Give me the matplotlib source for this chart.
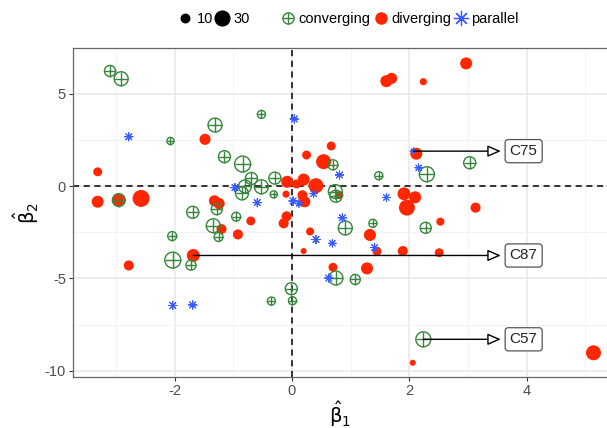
# Se importan las librerias
import numpy as np
import matplotlib
matplotlib.use('Agg')
import matplotlib.pyplot as plt
from matplotlib.lines import Line2D
from matplotlib.legend_handler import HandlerTuple

plt.rcParams['font.family'] = ['Liberation Sans', 'DejaVu Sans']
plt.rcParams['mathtext.fontset'] = 'dejavusans'
plt.rcParams['axes.unicode_minus'] = False

# Puntos "converging"
conv_x = [-3.10, -2.91, -2.07, -1.31, -0.52, -1.15, -0.84, -0.69, -0.29, -0.80,
          -0.52, -0.85, -0.31, -2.95, -1.69, -1.28, -0.95, -1.34, -1.25, -2.04,
          -2.03, -1.72, -0.01, -0.35, 0.01, 0.70, 1.48, 2.30, 3.03, 0.74,
          0.75, 0.91, 1.38, 2.28, 0.75, 1.08, 2.24]
conv_y = [6.23, 5.81, 2.44, 3.30, 3.88, 1.59, 1.19, 0.41, 0.43, -0.02,
          -0.04, -0.40, -0.45, -0.76, -1.42, -1.25, -1.66, -2.15, -2.76, -2.71,
          -4.01, -4.28, -5.56, -6.23, -6.21, 1.15, 0.56, 0.64, 1.26, -0.30,
          -0.55, -2.27, -2.02, -2.26, -4.98, -5.06, -8.30]
conv_size = [17, 27, 7, 27, 9, 20, 35, 20, 20, 23,
             27, 23, 7, 23, 20, 17, 11, 27, 11, 11,
             35, 14, 20, 9, 9, 14, 9, 31, 20, 27,
             20, 27, 9, 17, 27, 14, 31]

# Puntos "diverging"
div_x = [-3.31, -3.31, -2.95, -2.57, -1.48, -1.32, -1.24, -1.20, -0.92, -0.70,
         -1.68, -2.78, -0.08, -0.10, 0.08, 0.20, 0.25, 0.67, 0.54, 0.41,
         0.18, 0.22, 0.81, -0.09, -0.14, 0.31, 1.33, 0.20, 1.45, 1.89,
         2.51, 0.70, 1.28, 2.06, 5.14, 2.97, 1.61, 1.70, 2.24, 2.12,
         1.91, 2.10, 1.96, 3.13, 2.53]
div_y = [0.77, -0.85, -0.76, -0.67, 2.53, -0.80, -0.95, -2.33, -2.62, -1.89,
         -3.76, -4.30, 0.23, -0.44, 0.11, 0.35, 1.68, 2.17, 1.32, 0.02,
         -0.50, -0.85, -0.49, -1.64, -2.02, -2.46, -2.65, -3.52, -3.54, -3.52,
         -3.61, -4.40, -4.46, -9.57, -9.03, 6.64, 5.68, 5.83, 5.65, 1.75,
         -0.42, -0.61, -1.17, -1.17, -1.93]
div_size = [11, 20, 20, 40, 17, 17, 17, 14, 14, 11,
            23, 14, 20, 7, 11, 20, 11, 11, 31, 31,
            14, 17, 9, 14, 14, 9, 20, 5, 11, 14,
            11, 11, 20, 5, 31, 20, 20, 17, 7, 20,
            23, 20, 35, 14, 9]

# Puntos "parallel"
par_x = [-2.78, 0.04, -0.97, -0.59, 0.02, 0.12, 0.81, 0.37, 1.61, 0.86,
         0.41, 0.69, 1.41, 0.63, 2.16, 2.07, -2.03, -1.69]
par_y = [2.67, 3.63, -0.09, -0.90, -0.81, -0.94, 0.60, -0.41, -0.62, -1.72,
         -2.90, -3.10, -3.33, -4.98, 0.99, 1.89, -6.47, -6.44]
par_size = [11, 11, 11, 11, 11, 9, 11, 9, 9, 11,
            11, 9, 11, 11, 9, 6, 11, 11]

# Etiquetas con flecha
etiquetas = ['C75', 'C87', 'C57']
etiq_x = [2.07, -1.68, 2.24]
etiq_y = [1.89, -3.76, -8.30]
etiq_pos_x = 3.95

verde = '#35853a'
rojo = '#ff2600'
azul = '#3a5cff'


def area(tam):
    # diametro en pixeles proporcional a la raiz del tamano, pasado a puntos^2
    d = 2.69 * np.sqrt(np.asarray(tam, dtype=float)) * 72 / 100
    return d ** 2


fig = plt.figure(figsize=(6.07, 4.28), dpi=100)
ax = fig.add_axes([0.1203, 0.1192, 0.8797, 0.768])

# Cuadricula y lineas de referencia
ax.set_xticks([-2, 0, 2, 4])
ax.set_yticks([-10, -5, 0, 5])
ax.set_xticks([-3, -1, 1, 3, 5], minor=True)
ax.set_yticks([-7.5, -2.5, 2.5], minor=True)
ax.grid(which='major', color='#e8e8e8', lw=1.1, zorder=0)
ax.grid(which='minor', color='#f1f1f1', lw=0.6, zorder=0)
ax.set_axisbelow(True)
ax.axhline(0, color='black', ls=(0, (4, 3)), lw=1.1, zorder=1)
ax.axvline(0, color='black', ls=(0, (4, 3)), lw=1.1, zorder=1)

# Se generan las graficas de puntos
ax.scatter(div_x, div_y, s=area(div_size), color=rojo, lw=0, zorder=2)
ax.scatter(conv_x, conv_y, s=area(conv_size), facecolors='none',
           edgecolors=verde, lw=1.0, zorder=3)
ax.scatter(conv_x, conv_y, s=area(conv_size), marker='+', color=verde,
           lw=1.0, zorder=3)
ax.scatter(par_x, par_y, s=area(par_size) * 0.9, marker=(8, 2, 0), color=azul,
           lw=0.7, zorder=4)

# Flechas y cajas de texto
for nombre, x0, y0 in zip(etiquetas, etiq_x, etiq_y):
    ax.annotate('', xy=(3.56, y0), xytext=(x0, y0),
                arrowprops=dict(arrowstyle='-|>,head_length=0.8,head_width=0.35',
                                fc='white', ec='black', lw=1.0,
                                shrinkA=0, shrinkB=0), zorder=5)
    ax.text(etiq_pos_x, y0, nombre, ha='center', va='center', fontsize=11,
            color='#222222', zorder=6,
            bbox=dict(boxstyle='round,pad=0.3,rounding_size=0.2',
                      fc='white', ec='#555555', lw=0.9))

ax.set_xlim(-3.73, 5.37)
ax.set_ylim(-10.34, 7.46)

for lado in ['left', 'bottom', 'top']:
    ax.spines[lado].set_color('#666666')
    ax.spines[lado].set_linewidth(0.9)
ax.spines['right'].set_visible(False)
ax.tick_params(which='major', direction='out', length=3, width=0.8,
               color='#333333', labelcolor='#4d4d4d', labelsize=10.5, pad=2)
ax.tick_params(which='minor', length=0)

ax.set_xlabel(r'$\hat{\mathrm{\beta}}_1$', fontsize=14, labelpad=1)
ax.set_ylabel(r'$\hat{\mathrm{\beta}}_2$', fontsize=14, labelpad=3)

# Leyendas arriba
h10 = Line2D([], [], marker='o', ls='', color='black',
             markersize=np.sqrt(area(10)))
h30 = Line2D([], [], marker='o', ls='', color='black',
             markersize=np.sqrt(area(30)))
fig.legend(handles=[h10, h30], labels=['10', '30'], loc='center',
           bbox_to_anchor=(0.352, 0.955), ncol=2, frameon=False,
           fontsize=10.5, handlelength=1.0, handletextpad=0.3,
           columnspacing=0.1, borderpad=0)

hc = (Line2D([], [], marker='o', ls='', mfc='none', mec=verde, mew=1.0,
             markersize=8),
      Line2D([], [], marker='+', ls='', color=verde, mew=1.0, markersize=8))
hd = Line2D([], [], marker='o', ls='', color=rojo, markersize=8)
hp = Line2D([], [], marker=(8, 2, 0), ls='', color=azul, mew=0.9,
            markersize=11)
fig.legend(handles=[hc, hd, hp], labels=['converging', 'diverging', 'parallel'],
           handler_map={tuple: HandlerTuple(ndivide=1)}, loc='center',
           bbox_to_anchor=(0.659, 0.955), ncol=3, frameon=False,
           fontsize=10.5, handlelength=1.0, handletextpad=0.2,
           columnspacing=0.2, borderpad=0)

fig.savefig('out.png', dpi=100)
